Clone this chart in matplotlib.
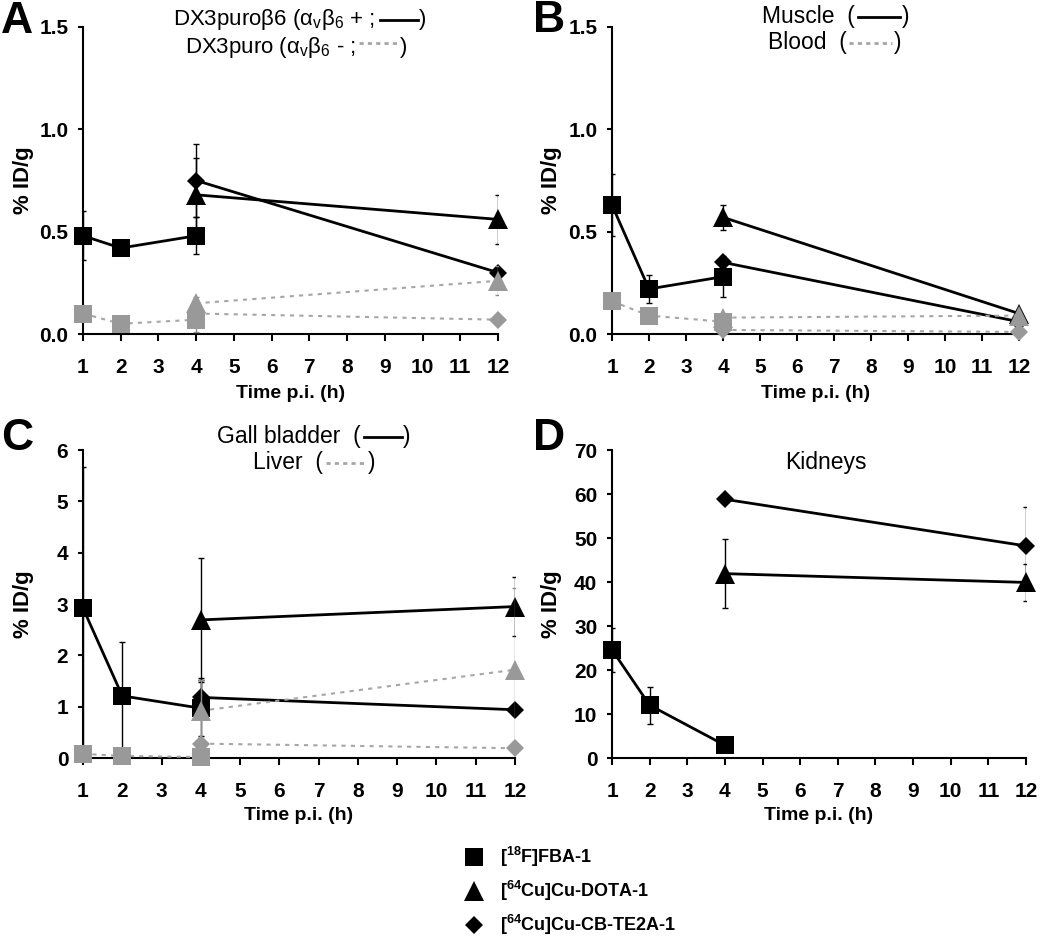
import matplotlib
matplotlib.use("Agg")
import matplotlib.pyplot as plt
from matplotlib.lines import Line2D

plt.rcParams['font.family'] = ['Liberation Sans', 'DejaVu Sans']
plt.rcParams['mathtext.fontset'] = 'custom'
plt.rcParams['mathtext.rm'] = 'Liberation Sans'
plt.rcParams['mathtext.it'] = 'Liberation Sans:italic'
plt.rcParams['mathtext.bf'] = 'Liberation Sans:bold'

W, H = 1050, 940

# ----------------------------------------------------------------------
# Data (% ID/g, mean and error)
# ----------------------------------------------------------------------
t_fba = [1, 2, 4]     # [18F]FBA-1 time points (h)
t_cu = [4, 12]        # 64Cu tracers time points (h)

# A - DX3puroB6 (avb6 +) tumour
fba_pos = [0.48, 0.42, 0.48]
fba_pos_err = [0.12, 0.02, 0.09]
dota_pos = [0.68, 0.56]
dota_pos_err = [0.18, 0.12]
cb_pos = [0.75, 0.30]
cb_pos_err = [0.18, 0.02]
# A - DX3puro (avb6 -) tumour
fba_neg = [0.10, 0.05, 0.07]
fba_neg_err = [0.02, 0.02, 0.06]
dota_neg = [0.15, 0.26]
dota_neg_err = [0.03, 0.07]
cb_neg = [0.10, 0.07]
cb_neg_err = [0.02, 0.01]

# B - muscle
fba_mus = [0.63, 0.22, 0.28]
fba_mus_err = [0.15, 0.07, 0.10]
dota_mus = [0.57, 0.10]
dota_mus_err = [0.06, 0.01]
cb_mus = [0.35, 0.06]
cb_mus_err = [0.02, 0.01]
# B - blood
fba_blood = [0.16, 0.09, 0.06]
fba_blood_err = [0.01, 0.01, 0.02]
dota_blood = [0.08, 0.09]
dota_blood_err = [0.01, 0.01]
cb_blood = [0.02, 0.01]
cb_blood_err = [0.005, 0.005]

# C - gall bladder
fba_gall = [2.92, 1.21, 0.97]
fba_gall_err = [2.75, 1.05, 0.55]
dota_gall = [2.69, 2.95]
dota_gall_err = [1.20, 0.58]
cb_gall = [1.18, 0.94]
cb_gall_err = [0.38, 0.10]
# C - liver
fba_liver = [0.08, 0.04, 0.02]
fba_liver_err = [0.02, 0.02, 0.02]
dota_liver = [0.92, 1.72]
dota_liver_err = [0.60, 1.60]
cb_liver = [0.28, 0.19]
cb_liver_err = [0.05, 0.03]

# D - kidneys
fba_kid = [24.6, 12.0, 2.9]
fba_kid_err = [5.0, 4.2, 0.5]
dota_kid = [41.9, 39.9]
dota_kid_err = [7.8, 4.3]
cb_kid = [58.8, 48.2]
cb_kid_err = [0.5, 8.8]

x_ticks = list(range(1, 13))
y_ticks_ab = [0.0, 0.5, 1.0, 1.5]
y_ticks_c = [0, 1, 2, 3, 4, 5, 6]
y_ticks_d = [0, 10, 20, 30, 40, 50, 60, 70]

tracer_labels = [r"[$^{\mathbf{18}}$F]FBA-1",
                 r"[$^{\mathbf{64}}$Cu]Cu-DOTA-1",
                 r"[$^{\mathbf{64}}$Cu]Cu-CB-TE2A-1"]

BLACK = "#000000"
GREY = "#999999"
GREY_LINE = "#a6a6a6"
GREY_ERR = "#8c8c8c"

MARKERS = [("s", 13.5), ("^", 14.5), ("D", 9.0)]


def px(x):
    return x / W


def py(y):
    return 1 - y / H


def make_axes(fig, left, right, top, bottom, yticks, ylabel_x, xlabel_top):
    ax = fig.add_axes([px(left), py(bottom), px(right - left), (bottom - top) / H])
    ax.set_xlim(1, 12)
    ax.set_ylim(yticks[0], yticks[-1])
    ax.set_xticks(x_ticks)
    ax.set_yticks(yticks)
    if isinstance(yticks[1], float):
        ax.set_yticklabels([f"{v:.1f}" for v in yticks])
    ax.spines["top"].set_visible(False)
    ax.spines["right"].set_visible(False)
    for s in ("left", "bottom"):
        ax.spines[s].set_linewidth(1.5)
    ax.tick_params(axis="x", direction="out", length=5, width=1.5,
                   labelsize=15, pad=12)
    ax.tick_params(axis="y", direction="out", length=3.6, width=1.5,
                   labelsize=15, pad=7)
    for lab in ax.get_xticklabels() + ax.get_yticklabels():
        lab.set_fontweight("bold")
    ax.set_xlabel("Time p.i. (h)", fontsize=14, fontweight="bold")
    ax.xaxis.set_label_coords(0.5, -(xlabel_top - bottom) / (bottom - top))
    ax.set_ylabel("% ID/g", fontsize=16, fontweight="bold")
    ax.yaxis.set_label_coords((ylabel_x - left) / (right - left), 0.5)
    return ax


def draw_series(ax, t, y, err, marker, ms, grey):
    col = GREY if grey else BLACK
    z = 4 if grey else 2
    ax.errorbar(t, y, yerr=err, fmt="none", ecolor=GREY_ERR if grey else BLACK,
                elinewidth=1, capsize=2, capthick=1, zorder=z)
    if grey:
        ax.plot(t, y, color=GREY_LINE, lw=1.5, ls=(0, (2, 2.5)), zorder=z)
    else:
        ax.plot(t, y, color=BLACK, lw=2, zorder=z)
    ax.plot(t, y, ls="none", marker=marker, ms=ms, mfc=col, mec=col, mew=0,
            clip_on=False, zorder=z + 1)


def draw_panel(ax, series, grey):
    for (t, y, err), (m, ms) in zip(series, MARKERS):
        draw_series(ax, t, y, err, m, ms, grey)


def key_line(fig, x0, x1, y, dotted):
    if dotted:
        ln = Line2D([px(x0), px(x1)], [py(y), py(y)], color=GREY_LINE, lw=2,
                    ls=(0, (1.5, 1.5)), transform=fig.transFigure)
    else:
        ln = Line2D([px(x0), px(x1)], [py(y), py(y)], color=BLACK, lw=2,
                    transform=fig.transFigure)
    fig.add_artist(ln)


def key_title(fig, text, x_text_right, x0, x1, y_text, y_line, x_close, dotted, size):
    fig.text(px(x_text_right), py(y_text), text, ha="right", va="center", fontsize=size)
    key_line(fig, x0, x1, y_line, dotted)
    fig.text(px(x_close), py(y_text), ")", ha="left", va="center", fontsize=size)


fig = plt.figure(figsize=(W / 100, H / 100), dpi=100)

axA = make_axes(fig, 83, 498, 27, 334, y_ticks_ab, 34, 385)
axB = make_axes(fig, 612, 1019, 27, 334, y_ticks_ab, 562, 385)
axC = make_axes(fig, 83, 515, 450, 758, y_ticks_c, 34, 807)
axD = make_axes(fig, 612, 1026, 450, 758, y_ticks_d, 562, 807)

draw_panel(axA, [(t_fba, fba_pos, fba_pos_err), (t_cu, dota_pos, dota_pos_err),
                 (t_cu, cb_pos, cb_pos_err)], grey=False)
draw_panel(axA, [(t_fba, fba_neg, fba_neg_err), (t_cu, dota_neg, dota_neg_err),
                 (t_cu, cb_neg, cb_neg_err)], grey=True)

draw_panel(axB, [(t_fba, fba_mus, fba_mus_err), (t_cu, dota_mus, dota_mus_err),
                 (t_cu, cb_mus, cb_mus_err)], grey=False)
draw_panel(axB, [(t_fba, fba_blood, fba_blood_err), (t_cu, dota_blood, dota_blood_err),
                 (t_cu, cb_blood, cb_blood_err)], grey=True)

draw_panel(axC, [(t_fba, fba_gall, fba_gall_err), (t_cu, dota_gall, dota_gall_err),
                 (t_cu, cb_gall, cb_gall_err)], grey=False)
draw_panel(axC, [(t_fba, fba_liver, fba_liver_err), (t_cu, dota_liver, dota_liver_err),
                 (t_cu, cb_liver, cb_liver_err)], grey=True)

draw_panel(axD, [(t_fba, fba_kid, fba_kid_err), (t_cu, dota_kid, dota_kid_err),
                 (t_cu, cb_kid, cb_kid_err)], grey=False)

# panel letters (baseline placed)
for letter, x, y in (("A", 1, 33), ("B", 533, 32), ("C", 1, 450), ("D", 533, 450)):
    fig.text(px(x), py(y), letter, ha="left", va="baseline", fontsize=32,
             fontweight="bold")

# in-panel keys
key_title(fig, r"DX3puroβ6 (α$_\mathrm{v}$β$_6$ + ; ", 377, 380, 418, 19, 20, 419,
          False, 16)
key_title(fig, r"DX3puro (α$_\mathrm{v}$β$_6$ - ;", 356, 359, 398, 47, 43, 400,
          True, 16)
key_title(fig, "Muscle  (", 855, 858, 900, 16, 17, 902, False, 16.5)
key_title(fig, "Blood  (", 847, 849, 892, 43, 43, 894, True, 16.5)
key_title(fig, "Gall bladder  (", 361, 364, 402, 437, 437, 403, False, 16.5)
key_title(fig, "Liver  (", 323, 326, 367, 463, 463, 368, True, 16.5)
fig.text(px(826), py(463), "Kidneys", ha="center", va="center", fontsize=16.5)

# tracer legend
handles = [Line2D([], [], ls="none", marker=m, ms=ms, mfc=BLACK, mec=BLACK, mew=0)
           for m, ms in MARKERS]
fig.legend(handles, tracer_labels, loc="upper left",
           bbox_to_anchor=(px(458), py(845)), frameon=False,
           prop={"weight": "bold", "size": 13}, borderpad=0, borderaxespad=0,
           handlelength=1.8, handletextpad=0.55, labelspacing=0.55)

fig.savefig("out.png", dpi=100)
